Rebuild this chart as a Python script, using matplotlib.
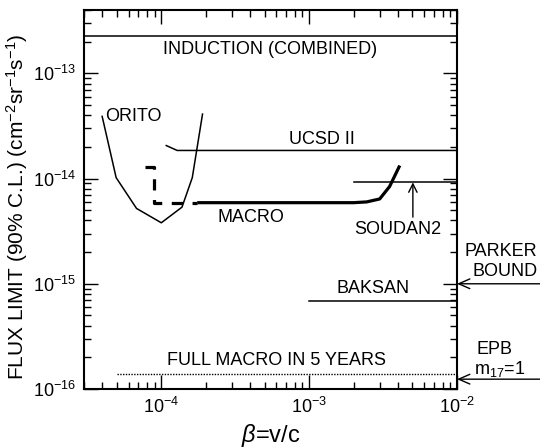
import matplotlib
matplotlib.use("Agg")
import matplotlib.pyplot as plt
from matplotlib.ticker import FixedLocator

plt.rcParams['font.family'] = ['Liberation Sans', 'DejaVu Sans']
plt.rcParams['mathtext.fontset'] = 'custom'
plt.rcParams['mathtext.rm'] = 'Liberation Sans'
plt.rcParams['mathtext.it'] = 'Liberation Sans:italic'
plt.rcParams['mathtext.bf'] = 'Liberation Sans:bold'

# ---- data ----
induction_x = [3e-5, 1e-2]
induction_y = [2.25e-13, 2.25e-13]

orito_x = [3.98e-5, 4.95e-5, 6.8e-5, 1.0e-4, 1.38e-4, 1.62e-4, 1.9e-4]
orito_y = [3.9e-14, 1.02e-14, 5.2e-15, 3.8e-15, 5.35e-15, 1.02e-14, 4.1e-14]

ucsd_x = [1.08e-4, 1.28e-4, 1e-2]
ucsd_y = [2.06e-14, 1.85e-14, 1.85e-14]

macro_dash_x = [7.7e-5, 8.9e-5, 8.9e-5, 1.75e-4]
macro_dash_y = [1.3e-14, 1.3e-14, 5.9e-15, 5.9e-15]

macro_x = [1.75e-4, 2.0e-3, 2.45e-3, 3.0e-3, 3.5e-3, 4.1e-3]
macro_y = [5.9e-15, 5.9e-15, 6.0e-15, 6.4e-15, 8.4e-15, 1.33e-14]

soudan_x = [2e-3, 1e-2]
soudan_y = [9.2e-15, 9.2e-15]

baksan_x = [1e-3, 1e-2]
baksan_y = [6.9e-16, 6.9e-16]

full_macro_x = [5e-5, 1e-2]
full_macro_y = [1.39e-16, 1.39e-16]

parker_bound = 1e-15
epb_bound = 1.24e-16

x_major_ticks = [1e-4, 1e-3, 1e-2]
y_major_ticks = [1e-16, 1e-15, 1e-14, 1e-13]

# ---- figure ----
fig = plt.figure(figsize=(5.4, 4.48), dpi=100)
ax = fig.add_axes([84/540, 1-389/448, (457-84)/540, (389-10)/448])
ax.set_xscale('log')
ax.set_yscale('log')
ax.set_xlim(3e-5, 1e-2)
ax.set_ylim(1e-16, 4e-13)
ax.xaxis.set_major_locator(FixedLocator(x_major_ticks))
ax.yaxis.set_major_locator(FixedLocator(y_major_ticks))
ax.set_xticklabels([r'$10^{-4}$', r'$10^{-3}$', r'$10^{-2}$'])
ax.set_yticklabels([r'$10^{-16}$', r'$10^{-15}$', r'$10^{-14}$', r'$10^{-13}$'])

lw = 1.1
ax.plot(induction_x, induction_y, color='black', lw=lw)
ax.plot(orito_x, orito_y, color='black', lw=lw)
ax.plot(ucsd_x, ucsd_y, color='black', lw=lw)
ax.plot(macro_dash_x, macro_dash_y, color='black', lw=2.3, dashes=(3.5, 3))
ax.plot(macro_x, macro_y, color='black', lw=2.3, solid_capstyle='butt')
ax.plot(soudan_x, soudan_y, color='black', lw=lw)
ax.plot(baksan_x, baksan_y, color='black', lw=lw)
ax.plot(full_macro_x, full_macro_y, color='black', lw=1.0, ls=(0, (1, 1)))

fs = 13
ax.text(5.4e-4, 1.69e-13, 'INDUCTION (COMBINED)', ha='center', va='center', fontsize=fs)
ax.text(4.15e-5, 3.9e-14, 'ORITO', ha='left', va='center', fontsize=fs)
ax.text(1.22e-3, 2.35e-14, 'UCSD II', ha='center', va='center', fontsize=fs)
ax.text(4.07e-4, 4.25e-15, 'MACRO', ha='center', va='center', fontsize=fs)
ax.text(3.98e-3, 3.27e-15, 'SOUDAN2', ha='center', va='center', fontsize=fs)
ax.text(2.7e-3, 8.96e-16, 'BAKSAN', ha='center', va='center', fontsize=fs)
ax.text(6.0e-4, 1.85e-16, 'FULL MACRO IN 5 YEARS', ha='center', va='center', fontsize=fs)

ax.annotate('', xy=(5.03e-3, 9.2e-15), xytext=(5.03e-3, 4.3e-15),
            arrowprops=dict(arrowstyle='->,head_length=0.6,head_width=0.3', lw=1.0, color='black',
                            shrinkA=0, shrinkB=0))

# right-side bounds
tr = ax.get_yaxis_transform()
for yv in (parker_bound, epb_bound):
    ax.annotate('', xy=(1.0, yv), xycoords=tr, xytext=(1.225, yv), textcoords=tr,
                arrowprops=dict(arrowstyle='->,head_length=0.8,head_width=0.35', lw=1.0,
                                color='black', shrinkA=0, shrinkB=0),
                annotation_clip=False)
fig.text(465/540, 1-252/448, 'PARKER', ha='left', va='center', fontsize=fs)
fig.text(472/540, 1-271/448, 'BOUND', ha='left', va='center', fontsize=fs)
fig.text(495/540, 1-349/448, 'EPB', ha='center', va='center', fontsize=fs)
fig.text(500/540, 1-369/448, r'm$_{17}$=1', ha='center', va='center', fontsize=fs)

# axes styling
for s in ax.spines.values():
    s.set_linewidth(1.5)
ax.tick_params(which='both', direction='in', top=True, right=True, width=1.0, labelsize=13)
ax.tick_params(which='major', length=10, pad=6)
ax.tick_params(which='minor', length=5)

ax.set_xlabel(r'$\it{\beta}$=v/c', fontsize=17, labelpad=3)
ax.set_ylabel(r'FLUX LIMIT (90% C.L.) (cm$^{-2}$sr$^{-1}$s$^{-1}$)', fontsize=15)
ax.yaxis.set_label_coords(-0.145, 0.48)

fig.savefig('out.png', dpi=100)
